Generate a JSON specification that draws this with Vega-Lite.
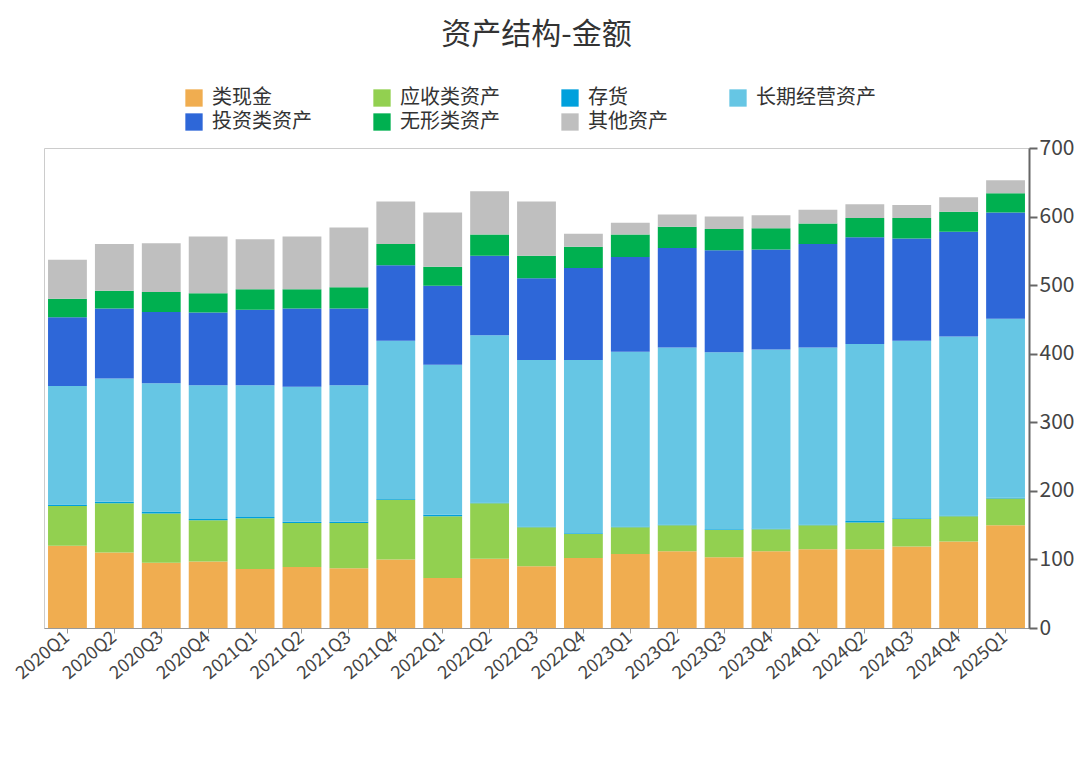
{
"$schema":"https://vega.github.io/schema/vega-lite/v6.json",
"width":985,"height":480,
"padding":{"left":12,"top":20,"right":8,"bottom":10},
"background":"white",
"config":{"view":{"stroke":"#cccccc"},"font":"Noto Sans CJK SC"},
"title":{"text":"资产结构-金额","fontSize":30,"fontWeight":"normal","color":"#333","offset":38},
"datasets":{"ord":[{"item":"类现金","o":1},{"item":"应收类资产","o":2},{"item":"存货","o":3},{"item":"长期经营资产","o":4},{"item":"投资类资产","o":5},{"item":"无形类资产","o":6},{"item":"其他资产","o":7}]},
"data":{"values":[
{"q":"2020Q1","类现金":120,"应收类资产":58,"存货":2,"长期经营资产":173,"投资类资产":100,"无形类资产":27,"其他资产":57},
{"q":"2020Q2","类现金":110,"应收类资产":72,"存货":2,"长期经营资产":180,"投资类资产":102,"无形类资产":26,"其他资产":68},
{"q":"2020Q3","类现金":95,"应收类资产":72,"存货":3,"长期经营资产":187,"投资类资产":104,"无形类资产":29,"其他资产":71},
{"q":"2020Q4","类现金":97,"应收类资产":60,"存货":2,"长期经营资产":195,"投资类资产":106,"无形类资产":28,"其他资产":83},
{"q":"2021Q1","类现金":86,"应收类资产":74,"存货":2,"长期经营资产":192,"投资类资产":110,"无形类资产":30,"其他资产":73},
{"q":"2021Q2","类现金":89,"应收类资产":64,"存货":2,"长期经营资产":197,"投资类资产":114,"无形类资产":28,"其他资产":77},
{"q":"2021Q3","类现金":87,"应收类资产":66,"存货":2,"长期经营资产":199,"投资类资产":112,"无形类资产":31,"其他资产":87},
{"q":"2021Q4","类现金":100,"应收类资产":87,"存货":1,"长期经营资产":231,"投资类资产":110,"无形类资产":31,"其他资产":62},
{"q":"2022Q1","类现金":73,"应收类资产":90,"存货":2,"长期经营资产":219,"投资类资产":115,"无形类资产":28,"其他资产":79},
{"q":"2022Q2","类现金":101,"应收类资产":81,"存货":1,"长期经营资产":244,"投资类资产":116,"无形类资产":31,"其他资产":63},
{"q":"2022Q3","类现金":90,"应收类资产":57,"存货":1,"长期经营资产":243,"投资类资产":119,"无形类资产":33,"其他资产":79},
{"q":"2022Q4","类现金":102,"应收类资产":35,"存货":1,"长期经营资产":253,"投资类资产":134,"无形类资产":31,"其他资产":19},
{"q":"2023Q1","类现金":108,"应收类资产":39,"存货":1,"长期经营资产":255,"投资类资产":138,"无形类资产":33,"其他资产":17},
{"q":"2023Q2","类现金":112,"应收类资产":38,"存货":1,"长期经营资产":258,"投资类资产":145,"无形类资产":31,"其他资产":18},
{"q":"2023Q3","类现金":103,"应收类资产":40,"存货":1,"长期经营资产":258,"投资类资产":149,"无形类资产":31,"其他资产":18},
{"q":"2023Q4","类现金":112,"应收类资产":32,"存货":1,"长期经营资产":261,"投资类资产":146,"无形类资产":31,"其他资产":19},
{"q":"2024Q1","类现金":115,"应收类资产":35,"存货":1,"长期经营资产":258,"投资类资产":151,"无形类资产":30,"其他资产":20},
{"q":"2024Q2","类现金":115,"应收类资产":39,"存货":2,"长期经营资产":258,"投资类资产":156,"无形类资产":28,"其他资产":20},
{"q":"2024Q3","类现金":119,"应收类资产":40,"存货":1,"长期经营资产":259,"投资类资产":149,"无形类资产":30,"其他资产":19},
{"q":"2024Q4","类现金":126,"应收类资产":37,"存货":1,"长期经营资产":261,"投资类资产":153,"无形类资产":29,"其他资产":21},
{"q":"2025Q1","类现金":150,"应收类资产":39,"存货":1,"长期经营资产":261,"投资类资产":155,"无形类资产":28,"其他资产":19}
]},
"transform":[
{"fold":["类现金","应收类资产","存货","长期经营资产","投资类资产","无形类资产","其他资产"],"as":["item","value"]},
{"lookup":"item","from":{"data":{"name":"ord"},"key":"item","fields":["o"]}}
],
"mark":{"type":"bar","width":{"band":0.92}},
"encoding":{
"x":{"field":"q","type":"ordinal","sort":null,"axis":{"title":null,"labelAngle":-40,"labelFontSize":18,"labelColor":"#444","domainColor":"#999","tickColor":"#999","labelAlign":"right","labelBaseline":"middle"}},
"y":{"field":"value","type":"quantitative","stack":"zero","scale":{"domain":[0,700]},"axis":{"orient":"right","title":null,"grid":false,"tickCount":7,"labelFontSize":21,"labelColor":"#444","domainColor":"#666","domainWidth":2,"tickColor":"#666","tickSize":8,"tickWidth":2}},
"order":{"field":"o","type":"quantitative","sort":"ascending"},
"color":{"field":"item","type":"nominal",
"scale":{"domain":["类现金","应收类资产","存货","长期经营资产","投资类资产","无形类资产","其他资产"],"range":["#f0ad50","#92d050","#00a0dc","#66c6e4","#2e67d8","#00b050","#bfbfbf"]},
"legend":{"orient":"none","direction":"horizontal","legendX":140,"legendY":-60,"title":null,"columns":4,"labelFontSize":20,"labelColor":"#333","symbolType":"square","symbolSize":300,"symbolStrokeWidth":0,"columnPadding":60,"rowPadding":4,"labelLimit":300,"labelOffset":8}}
}
}
